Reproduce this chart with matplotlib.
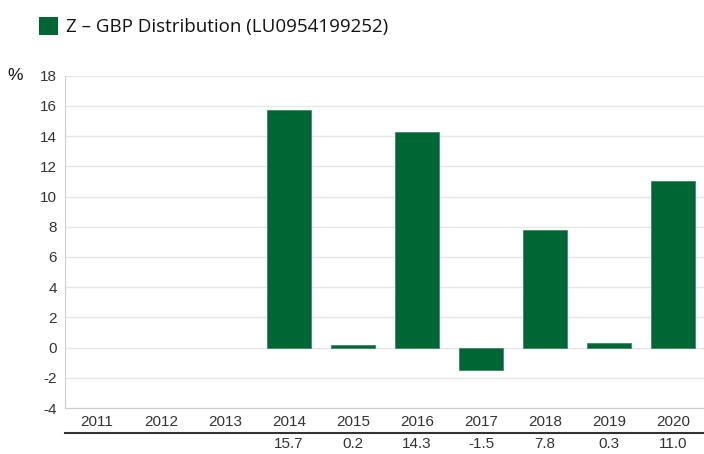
import matplotlib
matplotlib.use("Agg")
import matplotlib.pyplot as plt
from matplotlib.patches import Rectangle
import numpy as np

# data
years = ['2011', '2012', '2013', '2014', '2015', '2016', '2017', '2018', '2019', '2020']
returns = [None, None, None, 15.7, 0.2, 14.3, -1.5, 7.8, 0.3, 11.0]
series_name = 'Z – GBP Distribution (LU0954199252)'
yticks = [-4, -2, 0, 2, 4, 6, 8, 10, 12, 14, 16, 18]

green = '#006633'
grid_c = '#e6e6e6'
text_c = '#333333'

fig = plt.figure(figsize=(7.04, 4.54), dpi=100)
ax = fig.add_axes([65 / 704, 1 - 408 / 454, 640 / 704, (408 - 75.7) / 454])

x = np.arange(len(years))
bx = [xi for xi, v in zip(x, returns) if v is not None]
bv = [v for v in returns if v is not None]
ax.bar(bx, bv, width=0.7, color=green, edgecolor='#3d8a63', linewidth=0.6, zorder=3)

ax.set_xlim(-0.5, len(years) - 0.5)
ax.set_ylim(-4, 18)
ax.set_yticks(yticks)
ax.set_yticklabels([str(t) for t in yticks], family='Liberation Sans', fontsize=11, color=text_c)
ax.set_xticks(x)
ax.set_xticklabels(years, family='Liberation Sans', fontsize=11, color=text_c)
ax.tick_params(length=0, pad=6)
ax.tick_params(axis='x', pad=5)
ax.grid(axis='y', color=grid_c, linewidth=1, zorder=0)
for s in ['top', 'right']:
    ax.spines[s].set_visible(False)
ax.spines['left'].set_color('#cccccc')
ax.spines['bottom'].set_color('#cccccc')

# table row with values under each year
fig.add_artist(plt.Line2D([65 / 704, 1.0], [1 - 432.7 / 454] * 2, color='#333333', linewidth=1.5,
                          transform=fig.transFigure))
for xi, v in zip(x, returns):
    if v is None:
        continue
    xf = ax.transData.transform((xi, 0))[0] / fig.bbox.width
    fig.text(xf, 1 - 444 / 454, f'{v:.1f}', ha='center', va='center', family='Liberation Sans',
             fontsize=11, color=text_c)

# legend
fig.add_artist(Rectangle((39 / 704, 1 - 35 / 454), 19 / 704, 18 / 454, facecolor=green,
                         edgecolor='none', transform=fig.transFigure))
fig.text(66 / 704, 1 - 27 / 454, series_name, ha='left', va='center', family='Open Sans',
         fontsize=13.5, color='#111111')

fig.text(15 / 704, 1 - 75 / 454, '%', ha='center', va='center', family='Liberation Sans',
         fontsize=12.5, color='#111111')

fig.savefig('out.png', dpi=100)
